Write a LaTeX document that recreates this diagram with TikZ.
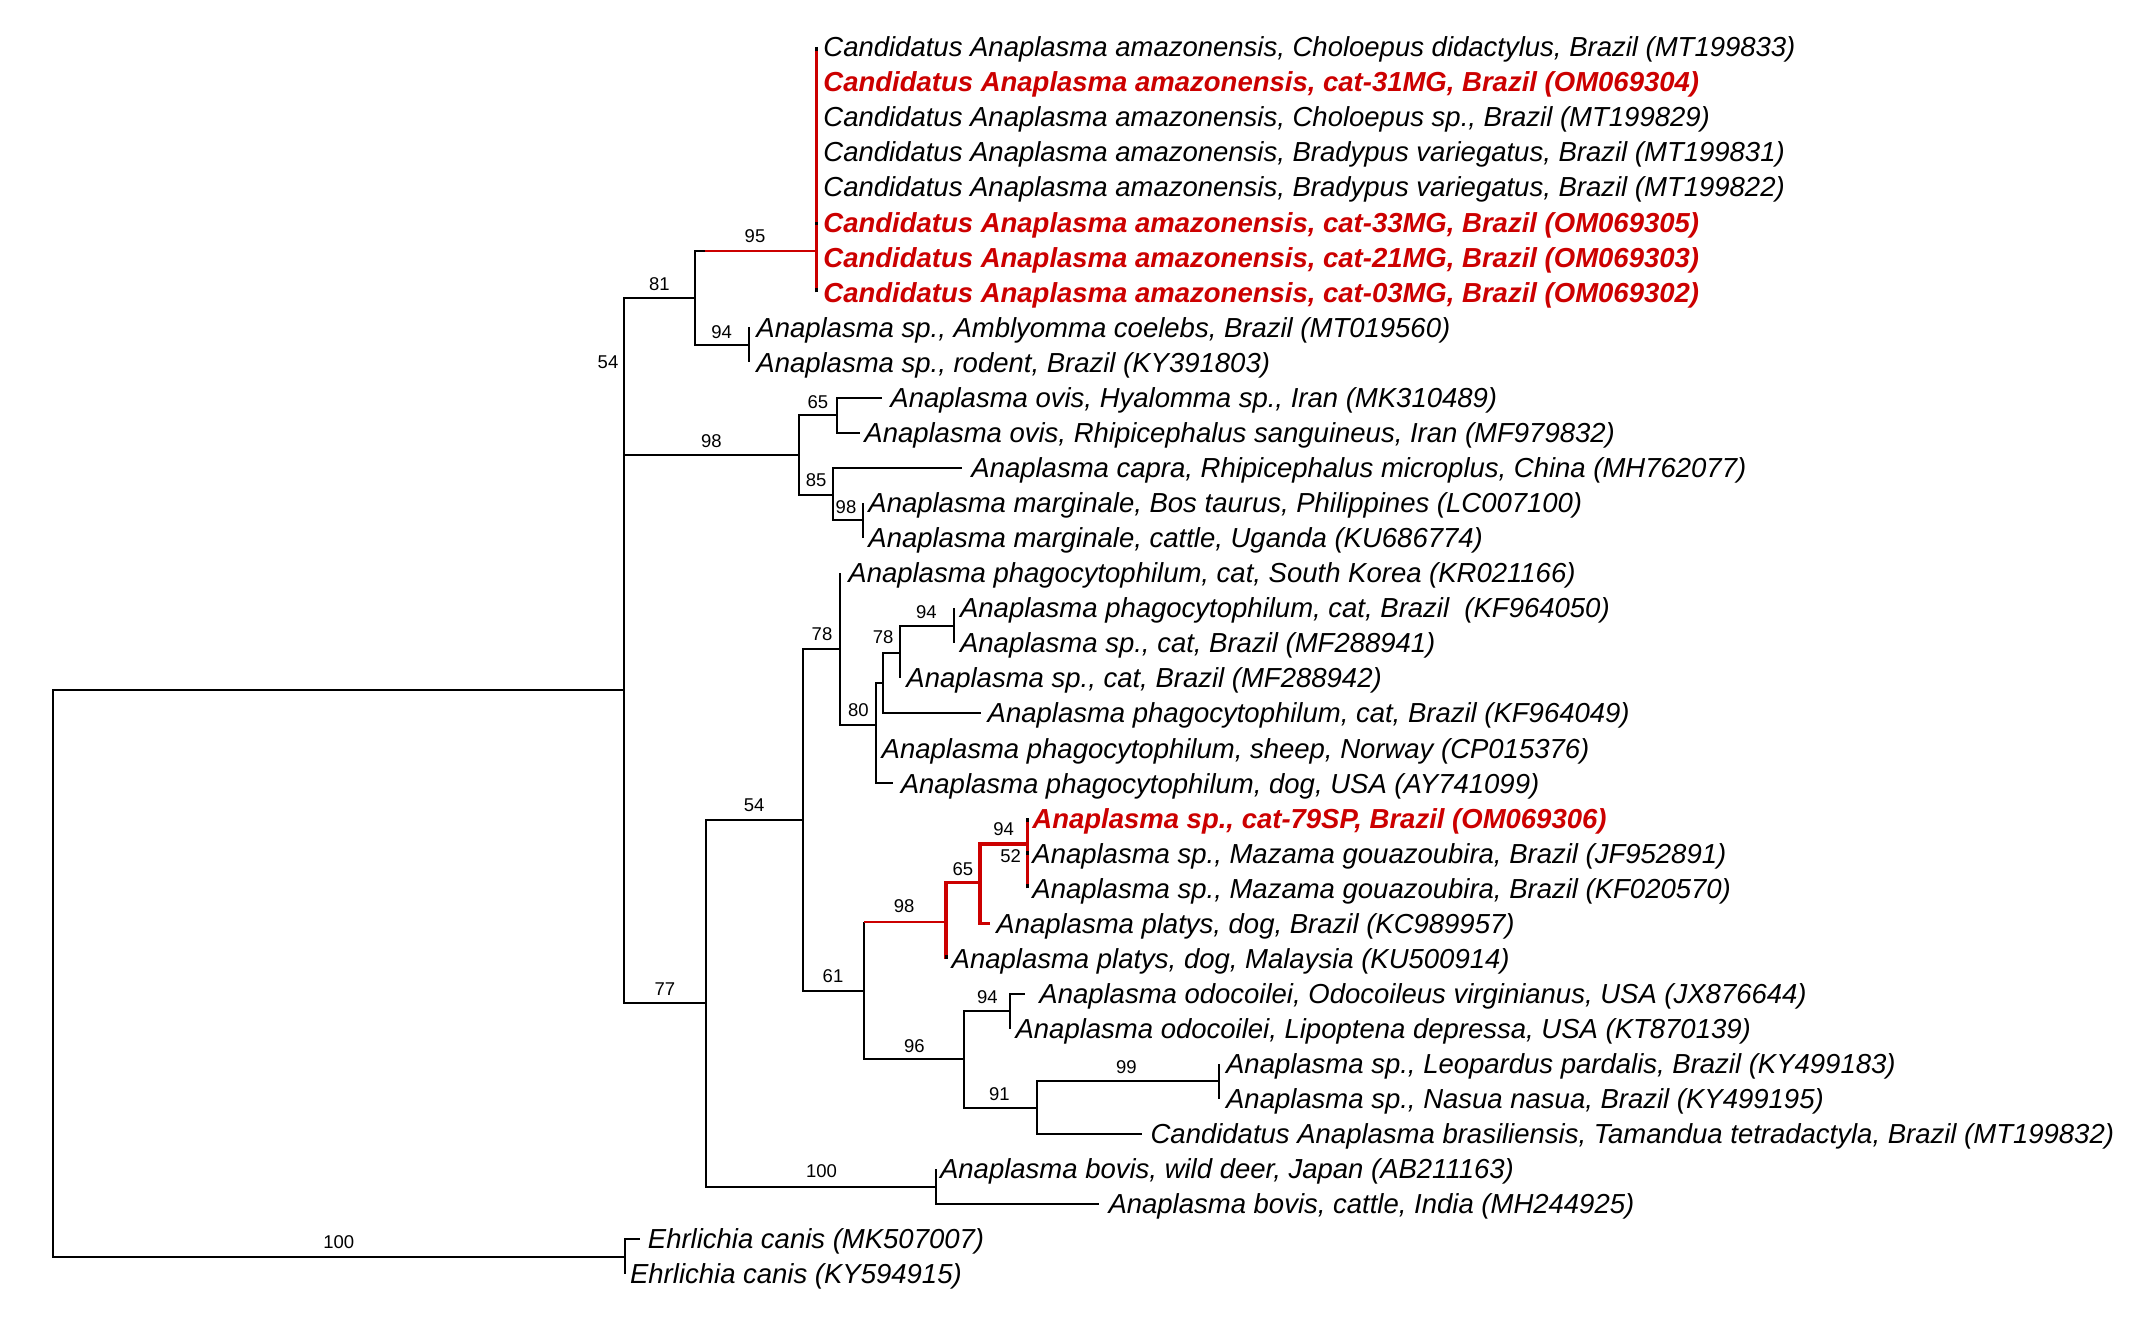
\documentclass[tikz,border=0pt]{standalone}
\usepackage{fontspec}
\setmainfont{Liberation Sans}
\definecolor{treered}{RGB}{204,0,0}

\begin{document}
\begin{tikzpicture}[x=0.5pt,y=-0.5pt,
  br/.style={black, line width=1pt},
  redbr/.style={treered, line width=1.65pt},
  redmid/.style={treered, line width=1.35pt},
  redthin/.style={treered, line width=1.1pt},
  stub/.style={black, line width=1.5pt},
  leaf/.style={anchor=base west, inner sep=0pt, yshift=-4.9pt, font=\fontsize{13.75}{16}\selectfont\itshape},
  hl/.style={leaf, text=treered, font=\fontsize{13.75}{16}\selectfont\bfseries\itshape},
  bs/.style={inner sep=0pt, font=\fontsize{9.25}{11}\selectfont}]
\useasboundingbox (0,0) rectangle (2145,1320);

% internal nodes
\coordinate (root) at (52.8,973.3);
\coordinate (ana) at (623.5,689.8);
\coordinate (ehr) at (624.6,1256.6);
\coordinate (n54a) at (623.5,376.5);
\coordinate (n81) at (694.9,298.3);
\coordinate (n95) at (816.6,251);
\coordinate (n94a) at (749.3,345);
\coordinate (n98a) at (798.6,454.7);
\coordinate (n65a) at (837.3,415.2);
\coordinate (n85) at (832.7,495);
\coordinate (n98b) at (862.5,520.3);
\coordinate (n77) at (705.5,1003);
\coordinate (n54b) at (803.2,819.8);
\coordinate (n78a) at (840.3,649);
\coordinate (n80) at (875.5,724.7);
\coordinate (nx) at (883.2,683.3);
\coordinate (n78b) at (899.7,652.7);
\coordinate (n94b) at (954,625.5);
\coordinate (n61) at (864,990.5);
\coordinate (n98c) at (946,921.7);
\coordinate (n65b) at (980,882.7);
\coordinate (n94c) at (1027.5,844);
\coordinate (n96) at (963.5,1059.3);
\coordinate (n94d) at (1009.6,1010.7);
\coordinate (n91) at (1036.6,1107.7);
\coordinate (n99) at (1219.3,1081.3);
\coordinate (n100) at (935.7,1186.8);

% leaf tips
\coordinate (l1) at (816.6,47.0);
\coordinate (l2) at (816.6,82.1);
\coordinate (l3) at (816.6,117.1);
\coordinate (l4) at (816.6,152.2);
\coordinate (l5) at (816.6,187.2);
\coordinate (l6) at (816.6,222.3);
\coordinate (l7) at (816.6,257.4);
\coordinate (l8) at (816.6,292.4);
\coordinate (l9) at (749.3,327.5);
\coordinate (l10) at (749.3,362.5);
\coordinate (l11) at (882.4,397.6);
\coordinate (l12) at (860.2,432.7);
\coordinate (l13) at (961.7,467.7);
\coordinate (l14) at (862.5,502.8);
\coordinate (l15) at (862.5,537.8);
\coordinate (l16) at (840.3,572.9);
\coordinate (l17) at (954,608.0);
\coordinate (l18) at (954,643.0);
\coordinate (l19) at (899.7,678.1);
\coordinate (l20) at (980.8,713.1);
\coordinate (l21) at (875.5,748.2);
\coordinate (l22) at (892.8,783.3);
\coordinate (l23) at (1027.5,818.3);
\coordinate (l24) at (1027.5,853.4);
\coordinate (l25) at (1027.5,888.4);
\coordinate (l26) at (990.4,923.5);
\coordinate (l27) at (946,958.6);
\coordinate (l28) at (1024.7,993.6);
\coordinate (l29) at (1009.6,1028.7);
\coordinate (l30) at (1219.3,1063.7);
\coordinate (l31) at (1219.3,1098.8);
\coordinate (l32) at (1142.3,1133.9);
\coordinate (l33) at (935.7,1168.9);
\coordinate (l34) at (1098.6,1204.0);
\coordinate (l35) at (640,1239.0);
\coordinate (l36) at (624.6,1274.1);

% black branches
\draw[br] (root) |- (ana);
\draw[br] (root) |- (ehr);
\draw[br] (ehr) |- (l35);
\draw[br] (ehr) |- (l36);
\draw[br] (ana) |- (n54a);
\draw[br] (ana) |- (n77);
\draw[br] (n54a) |- (n81);
\draw[br] (n54a) |- (n98a);
\draw[br] (n81) |- (n95);
\draw[br] (n81) |- (n94a);
\draw[br] (n94a) |- (l9);
\draw[br] (n94a) |- (l10);
\draw[br] (n98a) |- (n65a);
\draw[br] (n98a) |- (n85);
\draw[br] (n65a) |- (l11);
\draw[br] (n65a) |- (l12);
\draw[br] (n85) |- (l13);
\draw[br] (n85) |- (n98b);
\draw[br] (n98b) |- (l14);
\draw[br] (n98b) |- (l15);
\draw[br] (n77) |- (n54b);
\draw[br] (n77) |- (n100);
\draw[br] (n54b) |- (n78a);
\draw[br] (n54b) |- (n61);
\draw[br] (n78a) |- (l16);
\draw[br] (n78a) |- (n80);
\draw[br] (n80) |- (nx);
\draw[br] (n80) |- (l21);
\draw[br] (n80) |- (l22);
\draw[br] (nx) |- (n78b);
\draw[br] (nx) |- (l20);
\draw[br] (n78b) |- (n94b);
\draw[br] (n78b) |- (l19);
\draw[br] (n94b) |- (l17);
\draw[br] (n94b) |- (l18);
\draw[br] (n61) -- (n61 |- n98c);
\draw[br] (n61) |- (n96);
\draw[br] (n96) |- (n94d);
\draw[br] (n96) |- (n91);
\draw[br] (n94d) |- (l28);
\draw[br] (n94d) |- (l29);
\draw[br] (n91) |- (n99);
\draw[br] (n91) |- (l32);
\draw[br] (n99) |- (l30);
\draw[br] (n99) |- (l31);
\draw[br] (n100) |- (l33);
\draw[br] (n100) |- (l34);

% red branches
\draw[redthin] (n81 |- n95) ++(10,0) -- (n95);
\draw[stub] (l2) -- ++(0,28);
\draw[stub] (l6) ++(0,5) -- ++(0,34);
\draw[redmid] (n95) |- (l1);
\draw[redmid] (n95) |- (l8);
\draw[stub] (l1) -- ++(0,4);
\draw[stub] (l6) -- ++(0,3);
\draw[stub] (l8) -- ++(0,-4);
\draw[redthin] (n61 |- n98c) -- (n98c);
\draw[redbr] (n98c) |- (n65b);
\draw[redbr] (n98c) |- (l27);
\draw[redbr] (n65b) |- (n94c);
\draw[redbr] (n65b) |- (l26);
\draw[redbr] (n94c) |- (l23);
\draw[redbr] (n94c) |- (l25);
\draw[stub] (l23) -- ++(0,4);
\draw[stub] (l24) ++(0,-2) -- ++(0,4);
\draw[stub] (l25) -- ++(0,-4);
\draw[stub] (l27) -- ++(0,-4);

% leaf labels
\node[leaf] (t1) at (823,47.0) {Candidatus Anaplasma amazonensis, Choloepus didactylus, Brazil (MT199833)};
\node[hl] (t2) at (823,82.1) {Candidatus Anaplasma amazonensis, cat-31MG, Brazil (OM069304)};
\node[leaf] (t3) at (823,117.1) {Candidatus Anaplasma amazonensis, Choloepus sp., Brazil (MT199829)};
\node[leaf] (t4) at (823,152.2) {Candidatus Anaplasma amazonensis, Bradypus variegatus, Brazil (MT199831)};
\node[leaf] (t5) at (823,187.2) {Candidatus Anaplasma amazonensis, Bradypus variegatus, Brazil (MT199822)};
\node[hl] (t6) at (823,222.3) {Candidatus Anaplasma amazonensis, cat-33MG, Brazil (OM069305)};
\node[hl] (t7) at (823,257.4) {Candidatus Anaplasma amazonensis, cat-21MG, Brazil (OM069303)};
\node[hl] (t8) at (823,292.4) {Candidatus Anaplasma amazonensis, cat-03MG, Brazil (OM069302)};
\node[leaf] (t9) at (756,327.5) {Anaplasma sp., Amblyomma coelebs, Brazil (MT019560)};
\node[leaf] (t10) at (756,362.5) {Anaplasma sp., rodent, Brazil (KY391803)};
\node[leaf] (t11) at (890,397.6) {Anaplasma ovis, Hyalomma sp., Iran (MK310489)};
\node[leaf] (t12) at (864,432.7) {Anaplasma ovis, Rhipicephalus sanguineus, Iran (MF979832)};
\node[leaf] (t13) at (971,467.7) {Anaplasma capra, Rhipicephalus microplus, China (MH762077)};
\node[leaf] (t14) at (868,502.8) {Anaplasma marginale, Bos taurus, Philippines (LC007100)};
\node[leaf] (t15) at (868,537.8) {Anaplasma marginale, cattle, Uganda (KU686774)};
\node[leaf] (t16) at (848,572.9) {Anaplasma phagocytophilum, cat, South Korea (KR021166)};
\node[leaf] (t17) at (959.7,608.0) {Anaplasma phagocytophilum, cat, Brazil~ (KF964050)};
\node[leaf] (t18) at (959.7,643.0) {Anaplasma sp., cat, Brazil (MF288941)};
\node[leaf] (t19) at (906,678.1) {Anaplasma sp., cat, Brazil (MF288942)};
\node[leaf] (t20) at (987.3,713.1) {Anaplasma phagocytophilum, cat, Brazil (KF964049)};
\node[leaf] (t21) at (881.3,748.2) {Anaplasma phagocytophilum, sheep, Norway (CP015376)};
\node[leaf] (t22) at (900.4,783.3) {Anaplasma phagocytophilum, dog, USA (AY741099)};
\node[hl] (t23) at (1032,818.3) {Anaplasma sp., cat-79SP, Brazil (OM069306)};
\node[leaf] (t24) at (1032,853.4) {Anaplasma sp., Mazama gouazoubira, Brazil (JF952891)};
\node[leaf] (t25) at (1032,888.4) {Anaplasma sp., Mazama gouazoubira, Brazil (KF020570)};
\node[leaf] (t26) at (996,923.5) {Anaplasma platys, dog, Brazil (KC989957)};
\node[leaf] (t27) at (951.3,958.6) {Anaplasma platys, dog, Malaysia (KU500914)};
\node[leaf] (t28) at (1039,993.6) {Anaplasma odocoilei, Odocoileus virginianus, USA (JX876644)};
\node[leaf] (t29) at (1015.2,1028.7) {Anaplasma odocoilei, Lipoptena depressa, USA (KT870139)};
\node[leaf] (t30) at (1225.7,1063.7) {Anaplasma sp., Leopardus pardalis, Brazil (KY499183)};
\node[leaf] (t31) at (1225.7,1098.8) {Anaplasma sp., Nasua nasua, Brazil (KY499195)};
\node[leaf] (t32) at (1150.2,1133.9) {Candidatus Anaplasma brasiliensis, Tamandua tetradactyla, Brazil (MT199832)};
\node[leaf] (t33) at (939.7,1168.9) {Anaplasma bovis, wild deer, Japan (AB211163)};
\node[leaf] (t34) at (1108.1,1204.0) {Anaplasma bovis, cattle, India (MH244925)};
\node[leaf] (t35) at (647.5,1239.0) {Ehrlichia canis (MK507007)};
\node[leaf] (t36) at (629.7,1274.1) {Ehrlichia canis (KY594915)};

% bootstrap values
\node[bs] (b95) at (755,236) {95};
\node[bs] (b81) at (659.3,284) {81};
\node[bs] (b94a) at (721.7,331.7) {94};
\node[bs] (b54a) at (608,362) {54};
\node[bs] (b65a) at (817.8,401.7) {65};
\node[bs] (b98a) at (711.4,441) {98};
\node[bs] (b85) at (816.2,480) {85};
\node[bs] (b98b) at (846,506.7) {98};
\node[bs] (b78a) at (822,634.4) {78};
\node[bs] (b94b) at (926.4,612.3) {94};
\node[bs] (b78b) at (883.2,636.7) {78};
\node[bs] (b80) at (858.3,710) {80};
\node[bs] (b54b) at (754.2,805.7) {54};
\node[bs] (b61) at (833,976.5) {61};
\node[bs] (b98c) at (904.2,905.7) {98};
\node[bs] (b65b) at (962.8,869.3) {65};
\node[bs] (b94c) at (1003.7,829.3) {94};
\node[bs] (b52) at (1010.6,856) {52};
\node[bs] (b96) at (914.3,1045.7) {96};
\node[bs] (b94d) at (987.4,996.7) {94};
\node[bs] (b91) at (999.3,1094) {91};
\node[bs] (b99) at (1126.4,1067.3) {99};
\node[bs] (b77) at (664.8,988.9) {77};
\node[bs] (b100a) at (821.5,1171.6) {100};
\node[bs] (b100b) at (338.7,1241.9) {100};
\end{tikzpicture}
\end{document}
